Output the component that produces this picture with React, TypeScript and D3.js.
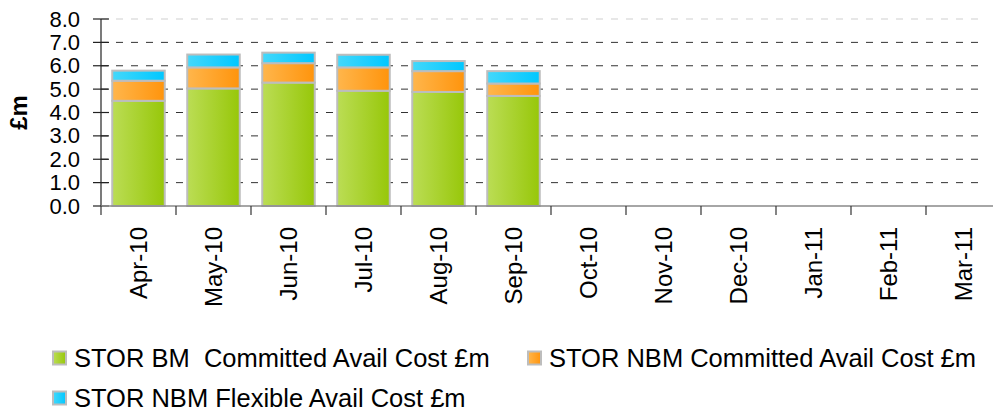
import React, { useEffect } from "react";
import * as d3 from "d3";

const categories = ["Apr-10", "May-10", "Jun-10", "Jul-10", "Aug-10", "Sep-10", "Oct-10", "Nov-10", "Dec-10", "Jan-11", "Feb-11", "Mar-11"];
const bmCommitted = [4.5, 5.03, 5.28, 4.93, 4.88, 4.71, 0, 0, 0, 0, 0, 0];
const nbmCommitted = [0.86, 0.9, 0.83, 1.0, 0.89, 0.53, 0, 0, 0, 0, 0, 0];
const nbmFlexible = [0.43, 0.55, 0.45, 0.54, 0.43, 0.53, 0, 0, 0, 0, 0, 0];
const seriesNames = ["STOR BM  Committed Avail Cost £m", "STOR NBM Committed Avail Cost £m", "STOR NBM Flexible Avail Cost £m"];
const yTicks = [0, 1, 2, 3, 4, 5, 6, 7, 8];

const W = 993;
const H = 414;
const M = { left: 101, top: 19, bottom: 206, right: 1001 };
const gridEnd = 985;
const FONT = "'Liberation Sans', Arial, sans-serif";

const gradStops = [
  ["#bbdd55", "#97c709"],
  ["#ffb64c", "#ff940c"],
  ["#44d8fb", "#00c7ff"],
];

export default function App() {
  useEffect(() => {
    document.body.style.margin = "0";
  }, []);

  const x = d3.scaleBand<string>().domain(categories).range([M.left, M.right]).paddingInner(0.3).paddingOuter(0.15);
  const y = d3.scaleLinear().domain([0, 8]).range([M.bottom, M.top]);
  const step = x.step();

  const rows = categories.map((c, i) => ({ cat: c, a: bmCommitted[i], b: nbmCommitted[i], c: nbmFlexible[i] }));
  const stack = d3.stack<any>().keys(["a", "b", "c"]);
  const layers = stack(rows);

  const legendItems = [
    { name: seriesNames[0], x: 52, y: 358 },
    { name: seriesNames[1], x: 527, y: 358 },
    { name: seriesNames[2], x: 52, y: 398 },
  ];

  return (
    <svg width={W} height={H} style={{ position: "absolute", left: 0, top: 0, display: "block" }} fontFamily={FONT}>
      <defs>
        {gradStops.map((g, i) => (
          <linearGradient key={i} id={`g${i}`} x1="0" x2="1" y1="0" y2="0">
            <stop offset="0" stopColor={g[0]} />
            <stop offset="1" stopColor={g[1]} />
          </linearGradient>
        ))}
      </defs>
      <rect width={W} height={H} fill="#fff" />
      {yTicks.filter((t) => t > 0).map((t) => (
        <line key={t} x1={M.left} x2={gridEnd} y1={y(t)} y2={y(t)} stroke={t === 8 ? "#cfcfcf" : "#333"} strokeWidth={1} strokeDasharray="7 8" />
      ))}
      {layers.map((layer, li) =>
        layer.map((d, i) => {
          const v = d[1] - d[0];
          if (!(v > 0)) return null;
          const bx = x(categories[i]) as number;
          return (
            <rect key={`${li}-${i}`} x={bx} y={y(d[1])} width={x.bandwidth()} height={y(d[0]) - y(d[1])} fill={`url(#g${li})`} stroke="#bdbdbd" strokeWidth={2} />
          );
        })
      )}
      <line x1={M.left} x2={M.left} y1={M.top} y2={M.bottom} stroke="#222" strokeWidth={1.2} />
      {yTicks.map((t) => (
        <g key={t}>
          <line x1={M.left - 8} x2={M.left + 8} y1={y(t)} y2={y(t)} stroke="#222" strokeWidth={1.2} />
          <text x={80} y={y(t)} textAnchor="end" dominantBaseline="central" fontSize={22} fill="#000">
            {d3.format(".1f")(t)}
          </text>
        </g>
      ))}
      <line x1={M.left} x2={M.right} y1={M.bottom} y2={M.bottom} stroke="#888" strokeWidth={1.5} />
      {d3.range(categories.length + 1).map((i) => (
        <line key={i} x1={M.left + i * step} x2={M.left + i * step} y1={M.bottom} y2={M.bottom + 9} stroke="#333" strokeWidth={1.2} />
      ))}
      {categories.map((c) => {
        const cx = (x(c) as number) + x.bandwidth() / 2;
        return (
          <text key={c} transform={`translate(${cx},227) rotate(-90)`} textAnchor="end" dominantBaseline="central" fontSize={24} fill="#000">
            {c}
          </text>
        );
      })}
      <text transform={`translate(18,${(M.top + M.bottom) / 2}) rotate(-90)`} textAnchor="middle" dominantBaseline="central" fontSize={24} fontWeight="bold">
        £m
      </text>
      {legendItems.map((it, i) => (
        <g key={i}>
          <rect x={it.x + 1} y={it.y - 6.5} width={13} height={13} fill={`url(#g${i})`} stroke="#bdbdbd" strokeWidth={2} />
          <text x={it.x + 22} y={it.y} dominantBaseline="central" fontSize={25.5} fill="#000" style={{ whiteSpace: "pre" }}>
            {it.name}
          </text>
        </g>
      ))}
    </svg>
  );
}
